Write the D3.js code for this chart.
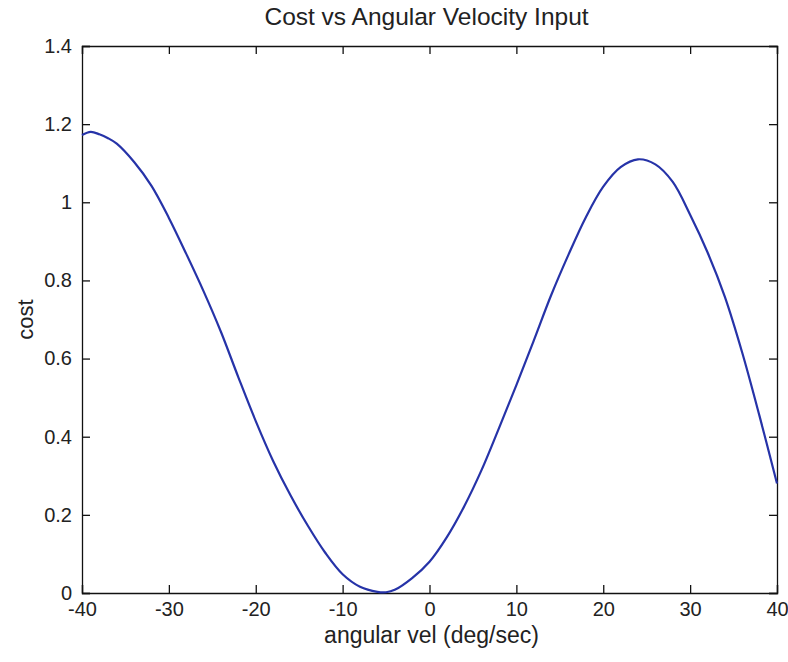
<!DOCTYPE html>
<html>
<head>
<meta charset="utf-8">
<script src="https://cdn.jsdelivr.net/npm/d3@7"></script>
<style>
  body { margin: 0; background: #fff; }
  svg text { font-family: "Liberation Sans", Arial, sans-serif; fill: #222; }
</style>
</head>
<body>
<div id="chart"></div>
<script>
// Data
const angVel = [-40, -39, -38, -37, -36, -34, -32, -30, -28, -26, -24, -22, -20, -18, -16, -14, -12, -10, -8, -6, -5, -4, -2, 0,
  2, 4, 6, 8, 10, 12, 14, 16, 18, 20, 22, 24, 26, 28, 30, 32, 34, 36, 38, 40];
const cost = [1.172, 1.180, 1.174, 1.164, 1.150, 1.103, 1.042, 0.960, 0.868, 0.772, 0.668, 0.552, 0.440, 0.338, 0.250, 0.172, 0.103, 0.048, 0.016, 0.003, 0.002, 0.008, 0.038, 0.080,
  0.143, 0.222, 0.315, 0.422, 0.532, 0.646, 0.762, 0.866, 0.962, 1.040, 1.090, 1.110, 1.097, 1.052, 0.968, 0.872, 0.758, 0.615, 0.452, 0.280];
const xTicks = [-40, -30, -20, -10, 0, 10, 20, 30, 40];
const yTicks = [0, 0.2, 0.4, 0.6, 0.8, 1, 1.2, 1.4];

const data = angVel.map((v, i) => ({ x: v, y: cost[i] }));

// Chart dimensions
const W = 788, H = 662;
const margin = { top: 46, right: 11, bottom: 69, left: 82 };
const width = W - margin.left - margin.right;
const height = H - margin.top - margin.bottom;

const svg = d3.select('#chart')
  .append('svg')
  .attr('width', W)
  .attr('height', H);

const g = svg.append('g')
  .attr('transform', 'translate(' + margin.left + ',' + margin.top + ')');

// Scales
const x = d3.scaleLinear().domain([-40, 40]).range([0, width]);
const y = d3.scaleLinear().domain([0, 1.4]).range([height, 0]);

// Axes (ticks pointing inward, like matlab), plain hyphen minus
const tickLen = 8;
const fmt = d => String(+d.toFixed(1));

const xAxis = g.append('g')
  .attr('transform', 'translate(0,' + height + ')')
  .call(d3.axisBottom(x).tickValues(xTicks).tickSize(-tickLen).tickPadding(9).tickFormat(fmt));
const yAxis = g.append('g')
  .call(d3.axisLeft(y).tickValues(yTicks).tickSize(-tickLen).tickPadding(10).tickFormat(fmt));
const xTop = g.append('g')
  .call(d3.axisTop(x).tickValues(xTicks).tickSize(-tickLen).tickFormat(''));
const yRight = g.append('g')
  .attr('transform', 'translate(' + width + ',0)')
  .call(d3.axisRight(y).tickValues(yTicks).tickSize(-tickLen).tickFormat(''));

[xAxis, yAxis, xTop, yRight].forEach(a => {
  a.select('.domain').attr('stroke', '#111').attr('stroke-width', 1.3);
  a.selectAll('.tick line').attr('stroke', '#111').attr('stroke-width', 1.3);
  a.selectAll('.tick text').style('font-size', '20px').attr('fill', '#222');
});

// Curve
g.append('path')
  .datum(data)
  .attr('fill', 'none')
  .attr('stroke', '#2633a8')
  .attr('stroke-width', 2.2)
  .attr('d', d3.line().x(d => x(d.x)).y(d => y(d.y)).curve(d3.curveCatmullRom.alpha(0.5)));

// Titles
svg.append('text')
  .attr('x', margin.left + width / 2 - 3)
  .attr('y', 25)
  .attr('text-anchor', 'middle')
  .style('font-size', '24.5px')
  .text('Cost vs Angular Velocity Input');

svg.append('text')
  .attr('x', margin.left + width / 2 + 2)
  .attr('y', 643)
  .attr('text-anchor', 'middle')
  .style('font-size', '23px')
  .text('angular vel (deg/sec)');

svg.append('text')
  .attr('transform', 'translate(33,' + (margin.top + height / 2) + ') rotate(-90)')
  .attr('text-anchor', 'middle')
  .style('font-size', '22px')
  .text('cost');
</script>
</body>
</html>
